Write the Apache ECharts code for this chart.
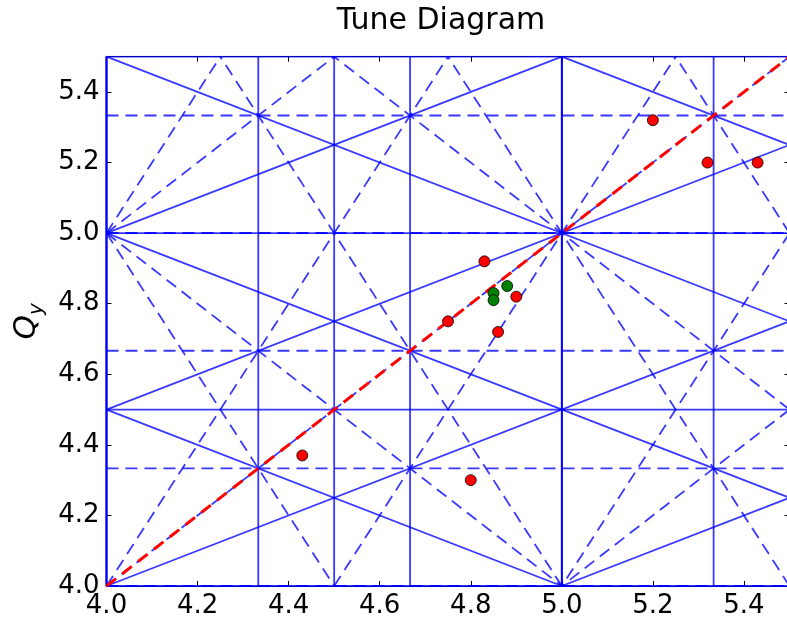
<!DOCTYPE html>
<html>
<head>
<meta charset="utf-8">
<script src="https://cdn.jsdelivr.net/npm/echarts@6/dist/echarts.min.js"></script>
<style>
  html, body { margin: 0; padding: 0; background: #fff; }
  #chart { width: 787px; height: 620px; }
</style>
</head>
<body>
<div id="chart"></div>
<script>
// Tune-space window
const qxRange = [4.0, 5.5];
const qyRange = [4.0, 5.5];
const xTickLabels = ['4.0', '4.2', '4.4', '4.6', '4.8', '5.0', '5.2', '5.4'];
const yTickLabels = ['4.0', '4.2', '4.4', '4.6', '4.8', '5.0', '5.2', '5.4'];

// Resonance terms m*Qx + n*Qy = p, up to third order
const resonanceTerms = [
  [1, 0], [0, 1],
  [2, 0], [0, 2], [1, 1], [1, -1],
  [3, 0], [0, 3], [1, 2], [1, -2], [2, 1], [2, -1]
];

// Measured working points
const redQx = [4.43, 4.80, 4.75, 4.83, 4.86, 4.90, 5.20, 5.32, 5.43];
const redQy = [4.37, 4.30, 4.75, 4.92, 4.72, 4.82, 5.32, 5.20, 5.20];
const greenQx = [4.85, 4.85, 4.88];
const greenQy = [4.83, 4.81, 4.85];

// Coupling diagonal Qx = Qy (end values)
const diagonalQ = [4.0, 5.5];

const FONT = 'DejaVu Sans';

// Segment of the line m*x + n*y = p inside the tune window
function clipResonance(m, n, p) {
  const [x0, x1] = qxRange, [y0, y1] = qyRange;
  const eps = 1e-9;
  const pts = [];
  if (n !== 0) {
    for (const x of [x0, x1]) {
      const y = (p - m * x) / n;
      if (y >= y0 - eps && y <= y1 + eps) pts.push([x, y]);
    }
  }
  if (m !== 0) {
    for (const y of [y0, y1]) {
      const x = (p - n * y) / m;
      if (x >= x0 - eps && x <= x1 + eps) pts.push([x, y]);
    }
  }
  const uniq = [];
  pts.forEach(pt => {
    if (!uniq.some(u => Math.abs(u[0] - pt[0]) < 1e-6 && Math.abs(u[1] - pt[1]) < 1e-6)) uniq.push(pt);
  });
  return uniq.length >= 2 ? [uniq[0], uniq[1]] : null;
}

const series = [];
resonanceTerms.forEach(([m, n]) => {
  const corners = [];
  qxRange.forEach(x => qyRange.forEach(y => corners.push(m * x + n * y)));
  const pMin = Math.ceil(Math.min(...corners) - 1e-9);
  const pMax = Math.floor(Math.max(...corners) + 1e-9);
  const dashed = Math.abs(n) % 2 === 1;  // skew resonances dashed
  for (let p = pMin; p <= pMax; p++) {
    const seg = clipResonance(m, n, p);
    if (!seg) continue;
    series.push({
      type: 'line',
      data: seg,
      symbol: 'none',
      silent: true,
      z: 2,
      lineStyle: {
        color: '#0000ff',
        opacity: 0.78,
        width: 1.8,
        type: dashed ? [12, 7] : 'solid'
      }
    });
  }
});

series.push({
  type: 'line',
  data: diagonalQ.map(q => [q, q]),
  symbol: 'none',
  silent: true,
  z: 3,
  lineStyle: { color: '#ff0000', width: 3, type: [12, 8] }
});

series.push({
  type: 'scatter',
  data: redQx.map((x, i) => [x, redQy[i]]),
  symbol: 'circle',
  symbolSize: 11,
  z: 4,
  itemStyle: { color: '#ff0000', borderColor: '#000', borderWidth: 0.8, opacity: 1 }
});
series.push({
  type: 'scatter',
  data: greenQx.map((x, i) => [x, greenQy[i]]),
  symbol: 'circle',
  symbolSize: 11,
  z: 4,
  itemStyle: { color: '#008000', borderColor: '#000', borderWidth: 0.8, opacity: 1 }
});

function axisBase(range, labels, position, showLabels) {
  return {
    type: 'value',
    position,
    min: range[0],
    max: range[1],
    interval: 0.2,
    splitLine: { show: false },
    axisLine: { show: true, onZero: false, lineStyle: { color: '#000', width: 1.2 } },
    axisTick: { show: true, inside: true, length: 5, lineStyle: { color: '#000', width: 1 } },
    axisLabel: {
      show: showLabels,
      color: '#000',
      fontFamily: FONT,
      fontSize: 26,
      margin: 7,
      formatter: v => {
        const s = v.toFixed(1);
        return labels.includes(s) ? s : '';
      }
    }
  };
}

const yLeft = axisBase(qyRange, yTickLabels, 'left', true);
Object.assign(yLeft, {
  name: '{q|Q}{s|y}',
  nameLocation: 'middle',
  nameGap: 52,
  nameTextStyle: {
    rich: {
      q: { fontFamily: FONT, fontStyle: 'italic', fontSize: 31, lineHeight: 40, color: '#000' },
      s: { fontFamily: FONT, fontStyle: 'italic', fontSize: 20, lineHeight: 18, verticalAlign: 'bottom', color: '#000' }
    }
  }
});

const chart = echarts.init(document.getElementById('chart'), null, { renderer: 'canvas' });
chart.setOption({
  animation: false,
  backgroundColor: '#fff',
  title: {
    text: 'Tune Diagram',
    left: 436,
    top: 1,
    textAlign: 'center',
    textStyle: { fontFamily: FONT, fontSize: 30, fontWeight: 'normal', color: '#000' }
  },
  grid: {
    left: 106.5, top: 56.7, right: -2.5, bottom: 34,
    containLabel: false,
    outerBoundsMode: 'none'
  },
  xAxis: [
    Object.assign(axisBase(qxRange, xTickLabels, 'bottom', true), { gridIndex: 0 }),
    Object.assign(axisBase(qxRange, xTickLabels, 'top', false), { gridIndex: 0 })
  ],
  yAxis: [
    Object.assign(yLeft, { gridIndex: 0 }),
    Object.assign(axisBase(qyRange, yTickLabels, 'right', false), { gridIndex: 0 })
  ],
  series
});
</script>
</body>
</html>
